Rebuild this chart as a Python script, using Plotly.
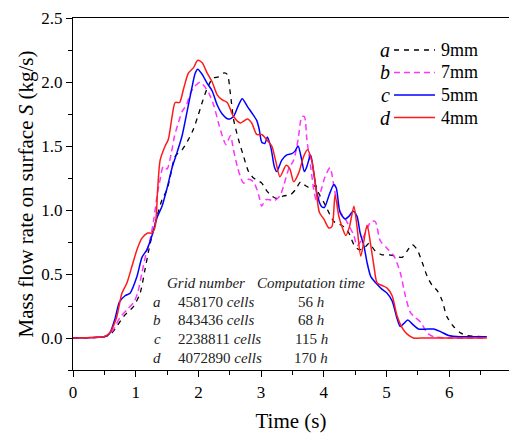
import plotly.graph_objects as go

# ---------------- data ----------------
t_a = [0, 0.2, 0.4, 0.5, 0.6, 0.67, 0.81, 0.97, 1.07, 1.15, 1.21, 1.26, 1.34, 1.42, 1.50, 1.55, 1.63, 1.74, 1.84, 1.92,
       1.99, 2.06, 2.14, 2.23, 2.32, 2.40, 2.46, 2.51, 2.56, 2.64, 2.72, 2.80, 2.88, 3.01, 3.09, 3.17, 3.25, 3.36, 3.47,
       3.55, 3.63, 3.71, 3.79, 3.87, 3.92, 4.00, 4.08, 4.16, 4.24, 4.32, 4.40, 4.48, 4.56, 4.64, 4.72, 4.82, 4.93, 5.03,
       5.14, 5.25, 5.33, 5.41, 5.49, 5.57, 5.65, 5.73, 5.81, 5.89, 5.96, 6.07, 6.18, 6.28, 6.60]
v_a = [0, 0.002, 0.005, 0.01, 0.03, 0.07, 0.17, 0.25, 0.35, 0.54, 0.69, 0.80, 0.95, 1.08, 1.16, 1.26, 1.42, 1.47, 1.55, 1.63,
       1.73, 1.84, 1.95, 2.03, 2.04, 2.07, 2.06, 1.91, 1.71, 1.55, 1.42, 1.30, 1.25, 1.21, 1.15, 1.11, 1.09, 1.11, 1.12,
       1.16, 1.22, 1.19, 1.17, 1.19, 1.13, 1.06, 0.98, 0.91, 0.89, 0.87, 0.82, 0.73, 0.69, 0.70, 0.74, 0.68, 0.65, 0.65,
       0.64, 0.63, 0.68, 0.73, 0.69, 0.59, 0.48, 0.41, 0.37, 0.29, 0.17, 0.09, 0.04, 0.02, 0.01]

t_b = [0, 0.2, 0.4, 0.5, 0.58, 0.65, 0.75, 0.86, 0.97, 1.03, 1.10, 1.17, 1.23, 1.29, 1.34, 1.39, 1.44, 1.50, 1.57, 1.62,
       1.68, 1.74, 1.81, 1.87, 1.95, 2.03, 2.09, 2.17, 2.25, 2.32, 2.38, 2.44, 2.51, 2.56, 2.62, 2.67, 2.72, 2.80, 2.88,
       2.96, 3.01, 3.07, 3.14, 3.20, 3.30, 3.36, 3.44, 3.52, 3.59, 3.65, 3.69, 3.73, 3.79, 3.84, 3.89, 3.96, 4.02, 4.10,
       4.16, 4.21, 4.27, 4.34, 4.41, 4.48, 4.53, 4.61, 4.69, 4.75, 4.82, 4.90, 5.01, 5.12, 5.22, 5.30, 5.38, 5.46, 5.55,
       5.65, 5.75, 6.0, 6.6]
v_b = [0, 0.002, 0.005, 0.01, 0.03, 0.07, 0.16, 0.22, 0.28, 0.35, 0.51, 0.67, 0.77, 0.93, 1.11, 1.24, 1.34, 1.32, 1.45, 1.58,
       1.68, 1.77, 1.82, 1.91, 1.97, 2.00, 1.97, 1.91, 1.81, 1.68, 1.58, 1.51, 1.58, 1.47, 1.34, 1.26, 1.21, 1.24, 1.22,
       1.12, 1.03, 1.08, 1.08, 1.07, 1.11, 1.19, 1.32, 1.39, 1.55, 1.73, 1.73, 1.55, 1.34, 1.16, 1.06, 1.16, 1.26, 1.33,
       1.19, 1.06, 0.98, 0.93, 0.87, 0.80, 0.72, 0.77, 0.85, 0.91, 0.91, 0.76, 0.70, 0.64, 0.51, 0.33, 0.20, 0.16, 0.12,
       0.04, 0.01, 0.0, 0.0]

t_c = [0, 0.2, 0.4, 0.5, 0.55, 0.59, 0.67, 0.74, 0.83, 0.91, 1.02, 1.10, 1.18, 1.26, 1.34, 1.42, 1.50, 1.58, 1.66, 1.74,
       1.82, 1.89, 1.95, 1.99, 2.06, 2.14, 2.22, 2.30, 2.38, 2.48, 2.56, 2.64, 2.70, 2.78, 2.85, 2.93, 2.97, 3.01, 3.06,
       3.10, 3.16, 3.21, 3.25, 3.33, 3.41, 3.49, 3.54, 3.59, 3.64, 3.69, 3.73, 3.79, 3.84, 3.89, 3.96, 4.01, 4.08, 4.16,
       4.20, 4.26, 4.34, 4.40, 4.47, 4.53, 4.58, 4.64, 4.69, 4.75, 4.85, 4.93, 5.01, 5.09, 5.17, 5.22, 5.27, 5.34, 5.41,
       5.51, 5.65, 5.75, 5.86, 5.99, 6.18, 6.60]
v_c = [0, 0.002, 0.005, 0.01, 0.02, 0.04, 0.15, 0.28, 0.33, 0.35, 0.48, 0.63, 0.69, 0.80, 0.94, 1.03, 1.17, 1.33, 1.45, 1.58,
       1.77, 1.94, 2.07, 2.10, 2.06, 1.99, 1.93, 1.82, 1.75, 1.71, 1.73, 1.82, 1.87, 1.81, 1.76, 1.70, 1.63, 1.53, 1.52,
       1.57, 1.48, 1.34, 1.30, 1.39, 1.43, 1.44, 1.46, 1.50, 1.41, 1.30, 1.34, 1.43, 1.29, 1.13, 1.03, 1.02, 1.11, 1.20,
       1.17, 0.98, 0.93, 0.95, 0.99, 0.95, 0.82, 0.72, 0.59, 0.48, 0.42, 0.38, 0.35, 0.29, 0.15, 0.09, 0.11, 0.14, 0.11,
       0.07, 0.07, 0.07, 0.05, 0.02, 0.01, 0.01]

t_d = [0, 0.2, 0.4, 0.5, 0.55, 0.6, 0.65, 0.70, 0.78, 0.86, 0.94, 1.02, 1.10, 1.19, 1.26, 1.31, 1.35, 1.39, 1.47, 1.52,
       1.58, 1.63, 1.70, 1.76, 1.84, 1.92, 1.99, 2.06, 2.14, 2.22, 2.30, 2.38, 2.46, 2.56, 2.67, 2.78, 2.85, 2.93, 3.01,
       3.09, 3.17, 3.23, 3.30, 3.40, 3.46, 3.52, 3.60, 3.68, 3.74, 3.81, 3.87, 3.93, 4.00, 4.08, 4.13, 4.18, 4.24, 4.29,
       4.35, 4.41, 4.48, 4.53, 4.59, 4.69, 4.75, 4.80, 4.85, 4.93, 5.01, 5.09, 5.17, 5.25, 5.33, 5.43, 5.6, 6.0, 6.6]
v_d = [0, 0.002, 0.006, 0.012, 0.025, 0.05, 0.10, 0.17, 0.35, 0.43, 0.56, 0.69, 0.78, 0.82, 0.82, 0.87, 1.16, 1.39, 1.50, 1.55,
       1.73, 1.84, 1.84, 1.94, 2.07, 2.11, 2.17, 2.15, 2.07, 2.00, 1.90, 1.86, 1.84, 1.73, 1.68, 1.71, 1.68, 1.59, 1.59,
       1.55, 1.50, 1.39, 1.26, 1.35, 1.32, 1.22, 1.29, 1.42, 1.47, 1.38, 1.19, 0.98, 0.93, 0.86, 0.87, 1.12, 0.95, 0.87,
       0.80, 0.87, 1.03, 0.87, 0.64, 0.88, 0.72, 0.56, 0.43, 0.41, 0.39, 0.33, 0.17, 0.08, 0.03, 0.0, 0.0, 0.0, 0.0]

series_letters = ["a", "b", "c", "d"]
series_names = ["9mm", "7mm", "5mm", "4mm"]
table_cells = ["458170", "843436", "2238811", "4072890"]
table_hours = ["56", "68", "115", "170"]
x_ticks = [0, 1, 2, 3, 4, 5, 6, 7]
y_ticks = [0.0, 0.5, 1.0, 1.5, 2.0, 2.5]

# ---------------- figure ----------------
W, H = 509, 434
ML, MR, MT, MB = 73, 0, 18, 64
PW, PH = W - ML - MR, H - MT - MB
FONT = "'Liberation Serif', 'DejaVu Serif', 'Times New Roman', serif"


def px(xp):
    return (xp - ML) / PW


def py(yp):
    return (H - MB - yp) / PH


fig = go.Figure()
styles = [
    dict(color="#000000", width=1.3, dash="5px,5px"),
    dict(color="#ff33ff", width=1.5, dash="6px,4px"),
    dict(color="#0000ff", width=1.5),
    dict(color="#ff1a1a", width=1.5),
]
for (tx, vy), nm, st in zip([(t_a, v_a), (t_b, v_b), (t_c, v_c), (t_d, v_d)], series_names, styles):
    fig.add_trace(go.Scatter(x=tx, y=vy, mode="lines", name=nm, showlegend=False,
                             line=dict(shape="spline", smoothing=0.7, **st)))

ann = []
shapes = []
# legend (letter, line sample, label)
leg_rows = [50, 72.5, 95, 117.5]
for L, nm, st, yy in zip(series_letters, series_names, styles, leg_rows):
    ann.append(dict(x=px(385), y=py(yy), xref="paper", yref="paper", text=f"<i>{L}</i>",
                    showarrow=False, font=dict(family=FONT, size=20, color="#000"), xanchor="center",
                    yanchor="middle"))
    ann.append(dict(x=px(439), y=py(yy), xref="paper", yref="paper", text=nm,
                    showarrow=False, font=dict(family=FONT, size=18, color="#000"), xanchor="left",
                    yanchor="middle"))
    shapes.append(dict(type="line", xref="paper", yref="paper", x0=px(394), x1=px(435),
                       y0=py(yy), y1=py(yy), line=dict(color=st["color"], width=st["width"],
                                                       dash=st.get("dash", "solid"))))
# table
tf = dict(family=FONT, size=15, color="#222")
ann.append(dict(x=px(165), y=py(283), xref="paper", yref="paper", text="<i>Grid number</i>",
                showarrow=False, font=tf, xanchor="left", yanchor="middle"))
ann.append(dict(x=px(255), y=py(283), xref="paper", yref="paper", text="<i>Computation time</i>",
                showarrow=False, font=tf, xanchor="left", yanchor="middle"))
rows_y = [302.3, 320.3, 339.3, 358.3]
for L, c, h, yy in zip(series_letters, table_cells, table_hours, rows_y):
    ann.append(dict(x=px(157), y=py(yy), xref="paper", yref="paper", text=f"<i>{L}</i>",
                    showarrow=False, font=tf, xanchor="center", yanchor="middle"))
    ann.append(dict(x=px(176), y=py(yy), xref="paper", yref="paper", text=f"{c} <i>cells</i>",
                    showarrow=False, font=tf, xanchor="left", yanchor="middle"))
    ann.append(dict(x=px(311), y=py(yy), xref="paper", yref="paper", text=f"{h} <i>h</i>",
                    showarrow=False, font=tf, xanchor="center", yanchor="middle"))

fig.update_layout(
    width=W, height=H,
    margin=dict(l=ML, r=MR, t=MT, b=MB, autoexpand=False),
    paper_bgcolor="white", plot_bgcolor="white",
    font=dict(family=FONT, color="#000"),
    showlegend=False,
    annotations=ann,
    shapes=shapes,
)
fig.update_xaxes(
    range=[0, PW / 62.7], tickvals=x_ticks, ticktext=[str(v) for v in x_ticks], automargin=False,
    showgrid=False, zeroline=False, showline=True, linecolor="#000", linewidth=1.3, mirror=True,
    ticks="outside", ticklen=6, tickwidth=1.2, tickcolor="#000",
    tickfont=dict(family=FONT, size=17, color="#000"),
    minor=dict(dtick=0.5, ticks="outside", ticklen=4, tickwidth=1.2, tickcolor="#000"),
    title=dict(text="Time (s)", font=dict(family=FONT, size=21, color="#000"), standoff=12),
)
fig.update_yaxes(
    range=[-0.25, 2.5], tickvals=y_ticks, ticktext=[f"{v:.1f}" for v in y_ticks], automargin=False,
    showgrid=False, zeroline=False, showline=True, linecolor="#000", linewidth=1.3,
    ticks="outside", ticklen=6, tickwidth=1.2, tickcolor="#000",
    tickfont=dict(family=FONT, size=17, color="#000"),
    minor=dict(dtick=0.25, tick0=0, ticks="outside", ticklen=4, tickwidth=1.2, tickcolor="#000"),
    title=dict(text="Mass flow rate on surface <i>S</i> (kg/s)", font=dict(family=FONT, size=21, color="#000"),
               standoff=1),
)

fig.write_html("out.html", config={"displayModeBar": False},
               post_script="document.body.style.margin='0px';document.body.style.overflow='hidden';")
